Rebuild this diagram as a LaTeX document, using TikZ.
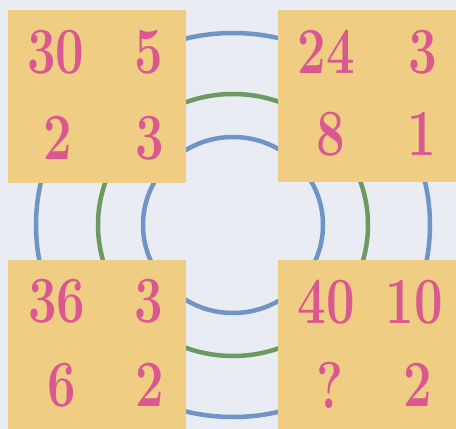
\documentclass[tikz,border=0pt]{standalone}
\usepackage{graphicx}
\usepackage{xcolor}
\usepackage{tikz}
\definecolor{bgblue}{RGB}{233,237,243}
\definecolor{tilefill}{RGB}{239,206,132}
\definecolor{numpink}{RGB}{218,88,143}
\definecolor{ringblue}{RGB}{110,148,200}
\definecolor{ringgreen}{RGB}{108,154,96}
\tikzstyle{tile}  = [rectangle, fill=tilefill, draw=none, inner sep=0pt]
\tikzstyle{num}   = [text=numpink, inner sep=0pt, font=\fontsize{66}{66}\selectfont\bfseries]
\tikzstyle{ring}  = [line width=4.5pt]
\newcommand{\narrow}[1]{\scalebox{0.77}[1]{#1}}

\begin{document}
\begin{tikzpicture}[x=1pt, y=-1pt]
    \useasboundingbox (0,0) rectangle (456,429);
    \fill[bgblue] (0,0) rectangle (456,429);

    % rings behind the tiles
    \coordinate (c) at (233,225);
    \begin{scope}
        \clip (0,0) rectangle (456,429);
        \draw[ring, ringblue]  (c) ellipse [x radius=90,  y radius=88];
        \draw[ring, ringgreen] (c) ellipse [x radius=135, y radius=131];
        \draw[ring, ringblue]  (c) ellipse [x radius=197, y radius=192];
    \end{scope}

    % tiles
    \node (tl) at ( 97,  96.5) [tile, minimum width=178pt, minimum height=173pt] {};
    \node (tr) at (367,  96)   [tile, minimum width=178pt, minimum height=172pt] {};
    \node (bl) at ( 97, 344.5) [tile, minimum width=178pt, minimum height=169pt] {};
    \node (br) at (367, 344.5) [tile, minimum width=178pt, minimum height=169pt] {};

    % numbers
    \node (tl1) at ( 56,  52) [num] {\narrow{30}};
    \node (tl2) at (149,  52) [num] {\narrow{5}};
    \node (tl3) at ( 58, 138) [num] {\narrow{2}};
    \node (tl4) at (150, 138) [num] {\narrow{3}};

    \node (tr1) at (326,  52) [num] {\narrow{24}};
    \node (tr2) at (423,  52) [num] {\narrow{3}};
    \node (tr3) at (331, 134) [num] {\narrow{8}};
    \node (tr4) at (422, 134) [num] {\narrow{1}};

    \node (bl1) at ( 57, 301) [num] {\narrow{36}};
    \node (bl2) at (149, 301) [num] {\narrow{3}};
    \node (bl3) at ( 62, 385) [num] {\narrow{6}};
    \node (bl4) at (150, 385) [num] {\narrow{2}};

    \node (br1) at (326, 302) [num] {\narrow{40}};
    \node (br2) at (414, 302) [num] {\narrow{10}};
    \node (br3) at (330, 385) [num] {\narrow{?}};
    \node (br4) at (418, 385) [num] {\narrow{2}};
\end{tikzpicture}
\end{document}
